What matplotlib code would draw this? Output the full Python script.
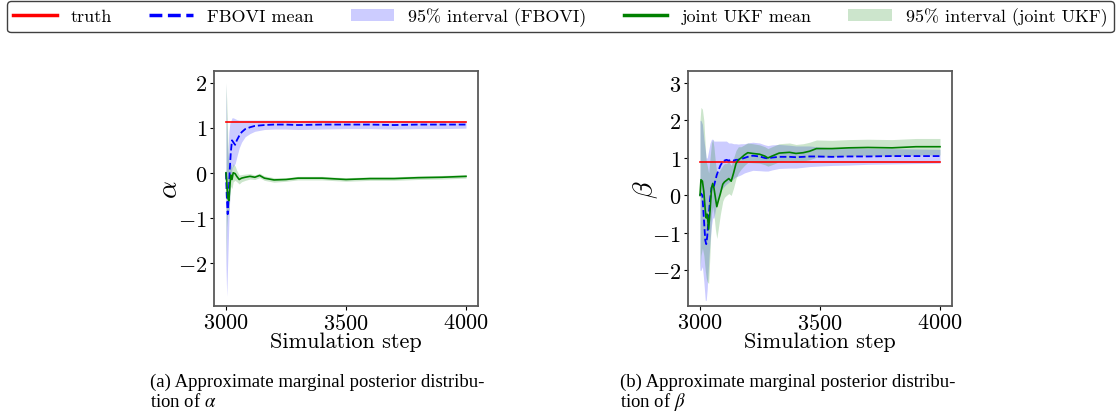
import numpy as np
import matplotlib
matplotlib.use('Agg')
import matplotlib.pyplot as plt
from matplotlib.lines import Line2D
from matplotlib.patches import Patch

plt.rcParams['font.family'] = 'serif'
plt.rcParams['font.serif'] = ['cmr10']
plt.rcParams['mathtext.fontset'] = 'cm'
plt.rcParams['axes.formatter.use_mathtext'] = True
plt.rcParams['axes.unicode_minus'] = True

# ---------------- data: alpha panel ----------------
steps_a = [3000, 3003, 3007, 3012, 3016, 3020, 3025, 3030, 3038, 3045, 3055, 3065, 3080,
           3100, 3120, 3140, 3160, 3200, 3250, 3300, 3400, 3500, 3600, 3700, 3800, 3900, 4000]
truth_alpha = 1.12
fbovi_mean_a = [0.0, -0.5, -0.92, -0.4, 0.1, 0.45, 0.72, 0.68, 0.62, 0.72, 0.82, 0.9, 0.97,
                1.01, 1.04, 1.05, 1.06, 1.07, 1.07, 1.06, 1.07, 1.07, 1.07, 1.06, 1.07, 1.07, 1.07]
fbovi_lo_a = [-2.1, -2.75, -2.0, -1.1, -0.5, -0.1, 0.1, 0.15, 0.2, 0.35, 0.55, 0.68, 0.8,
              0.87, 0.92, 0.94, 0.96, 0.97, 0.97, 0.96, 0.97, 0.98, 0.98, 0.97, 0.98, 0.98, 0.99]
fbovi_hi_a = [2.0, 1.2, 0.3, 0.9, 1.1, 1.15, 1.22, 1.22, 1.2, 1.18, 1.17, 1.17, 1.17,
              1.17, 1.17, 1.17, 1.17, 1.17, 1.17, 1.16, 1.17, 1.16, 1.16, 1.16, 1.16, 1.16, 1.15]
ukf_mean_a = [0.0, -0.2, -0.55, -0.62, -0.3, -0.05, -0.15, 0.0, -0.02, -0.08, -0.15, -0.12, -0.1,
              -0.08, -0.1, -0.06, -0.12, -0.16, -0.15, -0.12, -0.12, -0.15, -0.13, -0.13, -0.11, -0.1, -0.08]
ukf_lo_a = [-2.1, -1.2, -0.9, -0.85, -0.55, -0.3, -0.35, -0.2, -0.17, -0.2, -0.25, -0.2, -0.17,
            -0.14, -0.15, -0.11, -0.17, -0.21, -0.19, -0.16, -0.16, -0.19, -0.17, -0.17, -0.15, -0.14, -0.12]
ukf_hi_a = [2.0, 1.6, 0.8, 0.0, 0.2, 0.2, 0.1, 0.2, 0.15, 0.05, -0.05, -0.04, -0.03,
            -0.02, -0.05, -0.01, -0.07, -0.11, -0.11, -0.08, -0.08, -0.11, -0.09, -0.09, -0.07, -0.06, -0.04]

# ---------------- data: beta panel ----------------
steps_b = [3000, 3004, 3010, 3016, 3022, 3026, 3030, 3036, 3042, 3048, 3053, 3058, 3064, 3070,
           3076, 3085, 3095, 3102, 3110, 3120, 3130, 3140, 3150, 3160, 3171, 3185, 3199, 3220,
           3248, 3270, 3283, 3300, 3330, 3373, 3400, 3430, 3457, 3485, 3550, 3620, 3700, 3800,
           3900, 4000]
truth_beta = 0.9
fbovi_mean_b = [0.0, 0.05, 0.0, -0.6, -1.2, -1.3, -1.1, -0.6, -0.1, 0.2, 0.3, 0.25, 0.4, 0.55,
                0.65, 0.8, 0.9, 0.93, 0.95, 0.93, 0.95, 0.93, 0.95, 0.95, 0.97, 1.0, 1.03, 1.06,
                1.04, 1.0, 0.99, 1.01, 1.03, 1.03, 1.02, 1.03, 1.04, 1.04, 1.03, 1.04, 1.04, 1.05,
                1.05, 1.05]
fbovi_lo_b = [-2.0, -2.0, -1.9, -2.3, -2.8, -2.8, -2.5, -1.8, -1.2, -0.8, -0.6, -0.6, -0.4, -0.2,
              -0.05, 0.1, 0.2, 0.25, 0.3, 0.35, 0.4, 0.45, 0.5, 0.52, 0.55, 0.6, 0.63, 0.67,
              0.66, 0.65, 0.65, 0.68, 0.72, 0.73, 0.73, 0.75, 0.77, 0.78, 0.8, 0.81, 0.83, 0.84,
              0.85, 0.86]
fbovi_hi_b = [2.0, 2.0, 1.9, 1.5, 1.2, 1.0, 1.0, 1.2, 1.4, 1.5, 1.5, 1.45, 1.45, 1.45,
              1.45, 1.45, 1.45, 1.45, 1.45, 1.4, 1.4, 1.38, 1.38, 1.37, 1.38, 1.38, 1.4, 1.42,
              1.4, 1.35, 1.33, 1.35, 1.36, 1.34, 1.32, 1.32, 1.32, 1.3, 1.27, 1.27, 1.26, 1.25,
              1.24, 1.23]
ukf_mean_b = [0.0, 0.42, 0.38, 0.1, -0.4, -0.6, -0.5, -0.9, -0.4, 0.2, 0.32, 0.2, -0.05, -0.3,
              -0.15, 0.05, 0.3, 0.36, 0.4, 0.45, 0.38, 0.6, 0.85, 0.95, 1.0, 1.08, 1.14, 1.12,
              1.1, 1.05, 1.0, 1.05, 1.13, 1.15, 1.12, 1.14, 1.18, 1.25, 1.25, 1.27, 1.28, 1.27,
              1.3, 1.3]
ukf_lo_b = [-2.0, -1.6, -1.4, -1.6, -2.0, -2.2, -2.3, -2.35, -1.5, -0.5, -0.3, -0.5, -0.9, -1.15,
            -0.9, -0.5, -0.15, -0.05, 0.0, 0.05, 0.0, 0.2, 0.45, 0.6, 0.7, 0.8, 0.88, 0.87,
            0.86, 0.82, 0.78, 0.82, 0.9, 0.92, 0.9, 0.92, 0.95, 1.02, 1.03, 1.05, 1.06, 1.05,
            1.08, 1.08]
ukf_hi_b = [2.0, 2.35, 2.3, 2.0, 1.3, 0.9, 0.8, 0.6, 1.0, 1.4, 1.5, 1.3, 0.9, 0.6,
            0.6, 0.7, 0.8, 0.85, 0.85, 0.9, 0.8, 1.0, 1.2, 1.3, 1.3, 1.35, 1.4, 1.38,
            1.35, 1.3, 1.25, 1.3, 1.38, 1.4, 1.36, 1.38, 1.42, 1.48, 1.47, 1.49, 1.5, 1.49,
            1.52, 1.52]

xticks = [3000, 3500, 4000]
legend_labels = ['truth', 'FBOVI mean', '95% interval (FBOVI)', 'joint UKF mean',
                 '95% interval (joint UKF)']
captions = [("(a) Approximate marginal posterior distribu-", r"tion of $\alpha$"),
            ("(b) Approximate marginal posterior distribu-", r"tion of $\beta$")]

W, H = 1119, 414
fig = plt.figure(figsize=(W / 100, H / 100), dpi=100)

def panel(rect, steps, truth, fm, flo, fhi, um, ulo, uhi, ylabel, ylim, yticks, lpad):
    ax = fig.add_axes(rect)
    ax.fill_between(steps, flo, fhi, color='blue', alpha=0.2, linewidth=0)
    ax.fill_between(steps, ulo, uhi, color='green', alpha=0.2, linewidth=0)
    ax.plot([steps[0], steps[-1]], [truth, truth], color='red', lw=1.2)
    ax.plot(steps, fm, color='blue', ls='--', lw=1.3)
    ax.plot(steps, um, color='green', lw=1.2)
    ax.set_xlim(2950, 4050)
    ax.set_ylim(*ylim)
    ax.set_xticks(xticks)
    ax.set_yticks(yticks)
    ax.tick_params(labelsize=16, length=3, pad=2)
    ax.set_xlabel('Simulation step', fontsize=16, labelpad=-1)
    ax.set_ylabel(ylabel, fontsize=20, labelpad=lpad)
    for s in ax.spines.values():
        s.set_color('0.35')
        s.set_linewidth(1.3)
    return ax

ax1 = panel([214 / W, 1 - 307 / H, 264 / W, 235 / H], steps_a, truth_alpha,
            fbovi_mean_a, fbovi_lo_a, fbovi_hi_a, ukf_mean_a, ukf_lo_a, ukf_hi_a,
            r'$\alpha$', (-2.96, 2.26), [-2, -1, 0, 1, 2], -4)
ax2 = panel([688 / W, 1 - 307 / H, 264 / W, 235 / H], steps_b, truth_beta,
            fbovi_mean_b, fbovi_lo_b, fbovi_hi_b, ukf_mean_b, ukf_lo_b, ukf_hi_b,
            r'$\beta$', (-2.95, 3.32), [-2, -1, 0, 1, 2, 3], -6)

handles = [Line2D([], [], color='red', lw=2.5),
           Line2D([], [], color='blue', lw=2.5, ls='--'),
           Patch(facecolor='blue', alpha=0.2, edgecolor='none'),
           Line2D([], [], color='green', lw=2.5),
           Patch(facecolor='green', alpha=0.2, edgecolor='none')]
leg = fig.legend(handles, legend_labels, loc='upper left', ncol=5, mode='expand',
                 bbox_to_anchor=(7 / W, 1 - 2 / H, 1107 / W, 0), borderaxespad=0,
                 fontsize=13, handlelength=2.4, handletextpad=0.8, frameon=True,
                 fancybox=True, edgecolor='0.25', framealpha=1, borderpad=0.35)
leg.get_frame().set_linewidth(1.0)

for (l1, l2), x0 in zip(captions, [150, 620]):
    fig.text(x0 / W, 1 - 387 / H, l1, family='Liberation Serif', fontsize=13.5,
             va='baseline', ha='left')
    fig.text(x0 / W, 1 - 407 / H, l2, family='Liberation Serif', fontsize=13.5,
             va='baseline', ha='left', math_fontfamily='stix')

fig.savefig('out.png', dpi=100)
